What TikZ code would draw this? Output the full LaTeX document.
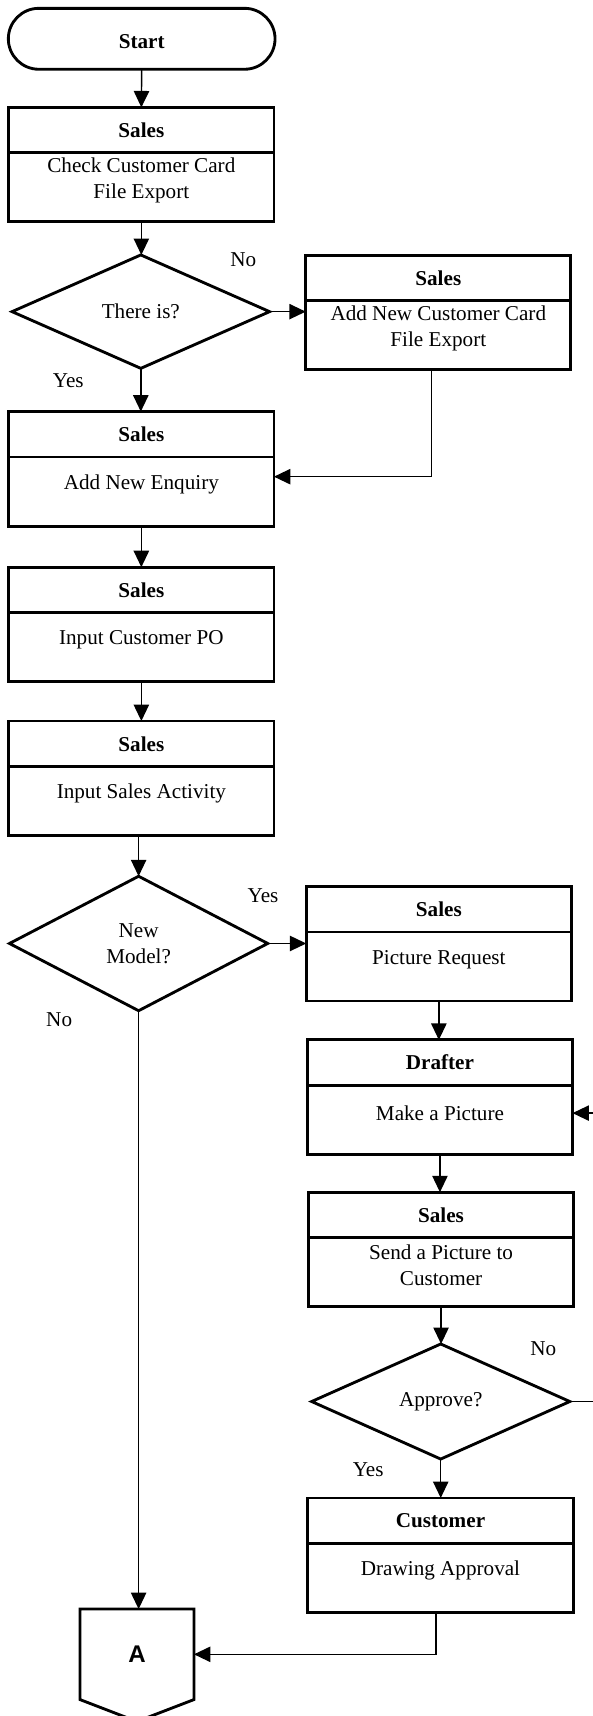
\documentclass[tikz,border=0pt]{standalone}
\usepackage{fontspec}
\setmainfont{Liberation Serif}
\newfontfamily\sansA{Liberation Sans}
\usepackage{tikz}
\usetikzlibrary{shapes.geometric}
\usetikzlibrary{arrows.meta}

\begin{document}
\begin{tikzpicture}[x=1pt, y=-1pt,
    font=\fontsize{19.3}{23.5}\selectfont,
    >={Triangle[length=15pt,width=14pt]},
    head/.style={draw, line width=2.6pt, anchor=north west, minimum width=242pt, minimum height=41.5pt, inner sep=0pt, outer sep=0pt, font=\fontsize{19.3}{23.5}\selectfont\bfseries},
    body/.style={draw, line width=2.6pt, anchor=north west, minimum width=242pt, minimum height=63pt, inner sep=0pt, outer sep=0pt},
    txt/.style={align=center, yshift=6.5pt},
    decision/.style={draw, diamond, aspect=2, line width=2.6pt, inner sep=0pt, outer sep=0pt, align=center},
    flow/.style={->, line width=1.3pt}]
            \useasboundingbox (0,0) rectangle (541,1566);
            \node[draw, line width=2.6pt, rounded corners=27.8pt, minimum width=243.4pt, minimum height=55.6pt, outer sep=0pt, text height=17pt, font=\fontsize{19.3}{23.5}\selectfont\bfseries] (start) at (129.3,35.4) {Start};
            \node[head] (h1) at (8,98) {Sales};
            \node[body, label={[txt]center:Check Customer Card\\File Export}] (p1) at (8,139.5) {};
            \node[decision, minimum width=235pt, minimum height=103.5pt] (d1) at (128.5,284.4) {There is?};
            \node[head] (h2) at (279,233) {Sales};
            \node[body, label={[txt]center:Add New Customer Card\\File Export}] (p2) at (279,274.5) {};
            \node[head] (h3) at (8,375.6) {Sales};
            \node[body, label={[txt]center:Add New Enquiry}] (p3) at (8,417.1) {};
            \node[head] (h4) at (8,517.6) {Sales};
            \node[body, label={[txt]center:Input Customer PO}] (p4) at (8,559.1) {};
            \node[head] (h5) at (8,658) {Sales};
            \node[body, label={[txt]center:Input Sales Activity}] (p5) at (8,699.5) {};
            \node[decision, minimum width=235.7pt, minimum height=122.7pt] (d2) at (126.5,861) {New\\Model?};
            \node[head] (h6) at (279.5,809) {Sales};
            \node[body, label={[txt]center:Picture Request}] (p6) at (279.5,850.5) {};
            \node[head] (h7) at (280.5,949) {Drafter};
            \node[body, label={[txt]center:Make a Picture}] (p7) at (280.5,990.5) {};
            \node[head] (h8) at (281.5,1088) {Sales};
            \node[body, label={[txt]center:Send a Picture to\\Customer}] (p8) at (281.5,1129.5) {};
            \node[decision, minimum width=235.6pt, minimum height=105pt] (d3) at (402.2,1279) {Approve?};
            \node[head] (h9) at (281,1367) {Customer};
            \node[body, label={[txt]center:Drawing Approval}] (p9) at (281,1408.5) {};
            \node[minimum width=104pt, minimum height=82.6pt, inner sep=0pt, outer sep=0pt, font=\fontsize{22}{26}\selectfont\sansA\bfseries] (conA) at (125,1509.7) {A};
            \draw[line width=2.6pt] (conA.north west) -- (conA.north east) -- (conA.south east) -- ([yshift=-20pt]conA.south) -- (conA.south west) -- cycle;
            \coordinate (loop) at (565,1150);
            \node (no1) at (222,236.6) {No};
            \node (yes1) at (62.3,347.3) {Yes};
            \node (yes2) at (240,817.5) {Yes};
            \node (no2) at (54,930.7) {No};
            \node (no3) at (495.8,1231) {No};
            \node (yes3) at (336,1341) {Yes};
            \draw[flow] (start.south) -- (h1.north);
            \draw[flow] (p1.south) -- (p1.south |- d1.north);
            \draw[flow] (d1.east) -- (d1.east -| p2.west);
            \draw[flow] (d1.south) -- (d1.south |- h3.north);
            \draw[flow] ([xshift=-6pt]p2.south) |- ([yshift=13.6pt]p3.east);
            \draw[flow] (p3.south) -- (h4.north);
            \draw[flow] (p4.south) -- (h5.north);
            \draw[flow] (d2.north |- p5.south) -- (d2.north);
            \draw[flow] (d2.east) -- (d2.east -| p6.west);
            \draw[flow] (d2.south) -- (d2.south |- conA.north);
            \draw[flow] (p6.south) -- (p6.south |- h7.north);
            \draw[flow] (p7.south) -- (p7.south |- h8.north);
            \draw[flow] (p8.south) -- (p8.south |- d3.north);
            \draw[flow] (d3.south) -- (d3.south |- h9.north);
            \draw[flow] (d3.east) -| (loop) |- ([yshift=6.2pt]p7.east);
            \draw[flow] ([xshift=-4pt]p9.south) |- (conA.east);
        \end{tikzpicture}
\end{document}
